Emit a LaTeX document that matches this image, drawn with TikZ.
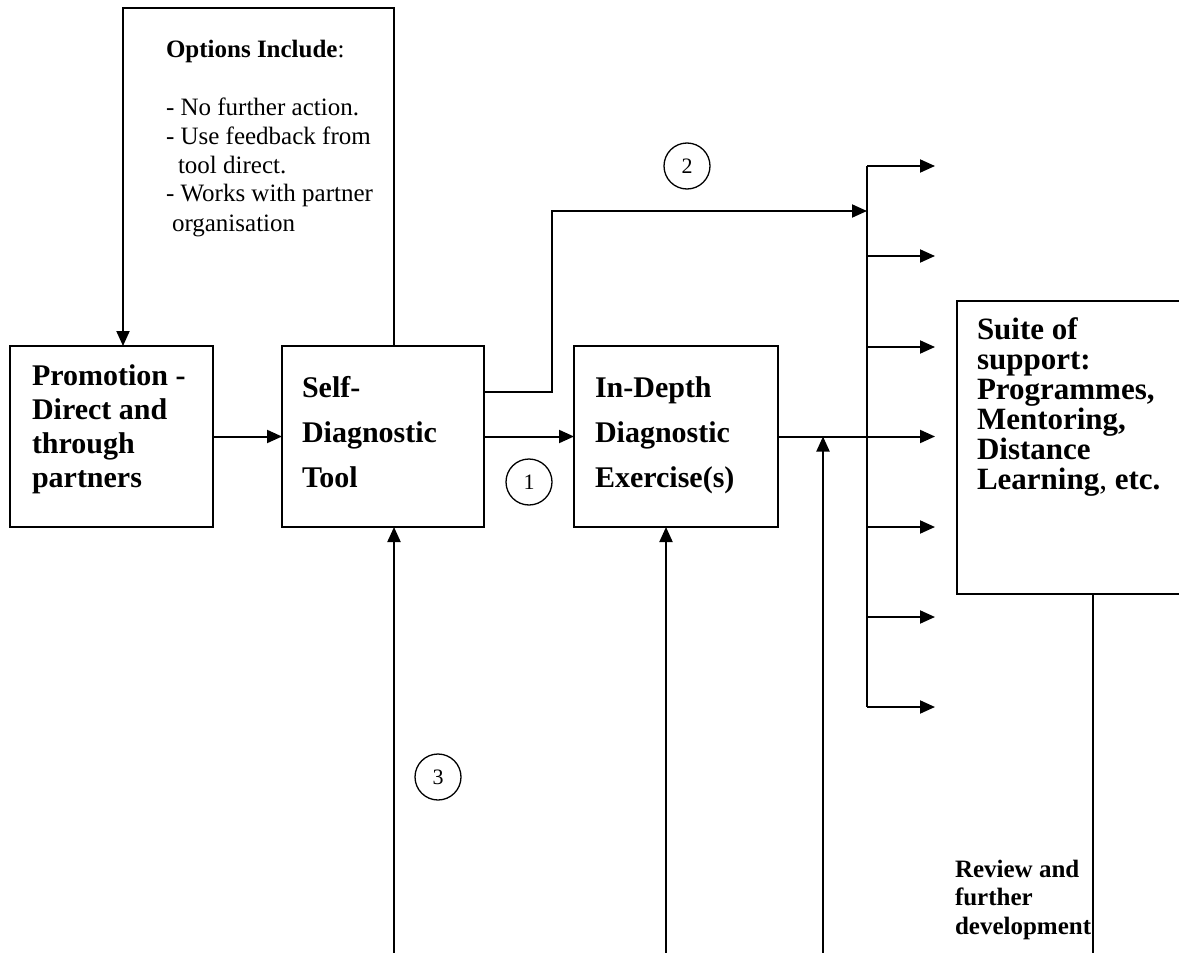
\documentclass[tikz,border=0pt]{standalone}
\usepackage{fontspec}
\setmainfont{Liberation Serif}
\usetikzlibrary{arrows.meta,calc}
\newcommand\Lines[2]{\vtop{\baselineskip=#1pt\lineskiplimit=-100pt\lineskip=0pt\halign{##\hfil\cr#2\crcr}}}
\begin{document}
\begin{tikzpicture}[x=1pt,y=-1pt,
  box/.style={draw,line width=2pt,inner sep=0pt,outer sep=0pt},
  ln/.style={line width=2pt},
  arr/.style={line width=2pt,-{Triangle[length=15pt,width=13pt]}},
  num/.style={draw,circle,line width=1.3pt,minimum size=46pt,inner sep=0pt,font=\fontsize{22}{24}\selectfont},
  txt/.style={anchor=base west,inner sep=0pt,outer sep=0pt},
  bigbold/.style={font=\fontsize{30}{34}\selectfont\bfseries}
]
\useasboundingbox (0,0) rectangle (1179,953);
\clip (0,0) rectangle (1179,953);
% boxes
\node[box,minimum width=203pt,minimum height=181pt] (A) at (111.5,436.5) {};
\node[box,minimum width=202pt,minimum height=181pt] (B) at (383,436.5) {};
\node[box,minimum width=204pt,minimum height=181pt] (C) at (676,436.5) {};
\node[box,minimum width=230pt,minimum height=293pt] (D) at (1072,447.5) {};
% texts
\node[txt,bigbold] (tA) at (32,385) {\Lines{34}{Promotion -\cr Direct and\cr through\cr partners}};
\node[txt,bigbold] (tB) at (302,397) {\Lines{45}{Self-\cr Diagnostic\cr Tool}};
\node[txt,bigbold] (tC) at (595,397) {\Lines{45}{In-Depth\cr Diagnostic\cr Exercise(s)}};
\node[txt,font=\fontsize{31}{30}\selectfont\bfseries] (tD) at (977,339) {\Lines{30}{Suite of\cr support:\cr Programmes,\cr Mentoring,\cr Distance\cr Learning{\mdseries,} etc.}};
\node[txt,font=\fontsize{25}{29}\selectfont] (tO) at (166,57) {\Lines{29}{\textbf{Options Include}:\cr\cr - No further action.\cr - Use feedback from\cr \hskip12pt tool direct.\cr - Works with partner\cr \hskip6pt organisation}};
\node[txt,font=\fontsize{25}{28}\selectfont\bfseries] (tR) at (955,877) {\Lines{28.5}{Review and\cr further\cr development}};
% numbered circles
\node[num] (n1) at (529,482) {1};
\node[num] (n2) at (687,166) {2};
\node[num] (n3) at (438,777) {3};
% main flow
\draw[arr] (A.east) -- (B.west);
\draw[arr] (B.east) -- (C.west);
% options loop
\coordinate (top1) at (394,8);
\coordinate (top2) at (123,8);
\draw[arr] (B.north -| top1) -- (top1) -- (top2) -- (A.north -| top2);
% route 2
\coordinate (k2) at (552,211);
\coordinate (in2) at (867,211);
\draw[arr] ([yshift=45pt]B.east) -| (k2) -- (in2);
% bus
\coordinate (bt) at (867,166);
\coordinate (bb) at (867,707);
\draw[ln] (bt) -- (bb);
\foreach \y [count=\i] in {166,256,347,436.5,527,617,707}{
  \coordinate (s\i) at (867,\y);
  \coordinate (o\i) at (935,\y);
  \draw[arr] (s\i) -- (o\i);
}
\draw[ln] (C.east) -- (s4);
% bottom feeds
\coordinate (f1) at (394,960);
\coordinate (f2) at (666,960);
\coordinate (f3) at (823,960);
\coordinate (f4) at (1093,960);
\draw[arr] (f1) -- (f1 |- B.south);
\draw[arr] (f2) -- (f2 |- C.south);
\draw[arr] (f3) -- (f3 |- C.east);
\draw[ln] (f4 |- D.south) -- (f4);
\end{tikzpicture}
\end{document}
